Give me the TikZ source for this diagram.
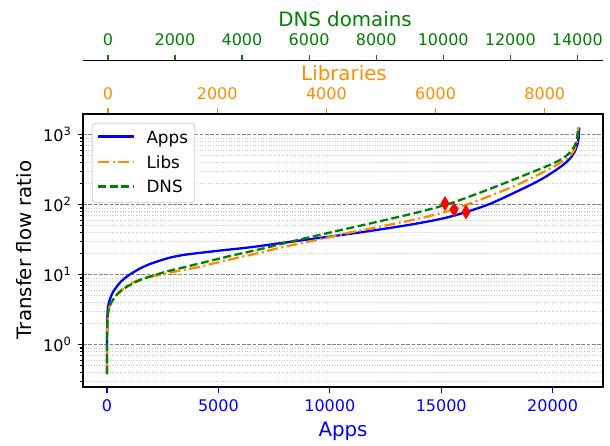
\documentclass[tikz,border=0pt]{standalone}
\usepackage{fontspec}
\setmainfont{DejaVu Sans}
\definecolor{mgreen}{RGB}{0,128,0}
\definecolor{morange}{RGB}{255,140,0}
\definecolor{mblue}{RGB}{0,0,255}
\begin{document}
\begin{tikzpicture}[x=1pt,y=-1pt,
  ticklab/.style={inner sep=0pt,anchor=base,font=\fontsize{16}{16}\selectfont},
  ylab/.style={inner sep=0pt,anchor=base east,font=\fontsize{16}{16}\selectfont},
  axlab/.style={inner sep=0pt,anchor=base,font=\fontsize{19.8}{20}\selectfont},
  leglab/.style={inner sep=0pt,anchor=base west,font=\fontsize{16.8}{17}\selectfont},
  gridmajor/.style={gray,line width=0.8pt,dash pattern=on 3.7pt off 1.6pt},
  gridminor/.style={black!22,line width=0.8pt,dash pattern=on 1pt off 1.65pt},
  framestyle/.style={black,line width=1.6pt},
  tickmark/.style={line width=1.1pt},
  appsline/.style={mblue,line width=2.3pt},
  libsline/.style={morange,line width=2.3pt,dash pattern=on 11pt off 3.5pt on 2pt off 3.5pt},
  dnsline/.style={mgreen,line width=2.3pt,dash pattern=on 8pt off 3.5pt},
  redmark/.style={fill=red,draw=red,line width=0.5pt}
]
\useasboundingbox (0,0) rectangle (610,445);

% ---------- grid and y minor ticks (clipped) ----------
\begin{scope}
  \clip (70,114) rectangle (603,387);
  \foreach \d in {-1,0,1,2,3}{
    \foreach \l in {0.30103,0.47712,0.60206,0.69897,0.77815,0.84510,0.90309,0.95424}{
      \pgfmathsetmacro\yy{344.8-70*(\d+\l)}
      \draw[gridminor] (83,\yy) -- (603,\yy);
      \draw[tickmark] (79.5,\yy) -- (83,\yy);
    }
  }
\end{scope}
\foreach \d in {0,1,2,3}{
  \pgfmathsetmacro\yy{344.8-70*\d}
  \draw[gridmajor] (83,\yy) -- (603,\yy);
  \draw[tickmark] (78,\yy) -- (83,\yy);
  \node[ylab] (ylab\d) at (71,\yy+6.3) {10\raisebox{6pt}{\fontsize{11.4}{11}\selectfont\d}};
}

% ---------- curves ----------
\draw[appsline] plot[smooth,tension=0.5] coordinates {
 (107,374) (107,345) (107.2,325) (107.8,308) (110,299) (113,292) (116.5,287)
 (121,281.5) (127,276.5) (133,272.5) (141,268) (150,264) (166,258.7) (183,255)
 (216,251) (250,247.3) (283,242.8) (317,238.3) (350,233.8) (383,229) (417,223.5)
 (450,216.7) (487,205) (520,190) (540,180) (553,172) (563,165) (570,158.5)
 (574.5,152) (577,146) (578.6,138) (579.2,127.5)};
\draw[libsline] plot[smooth,tension=0.5] coordinates {
 (107,374) (107,345) (107.3,325) (108.3,312) (111,303) (116,295.5) (122,289.5)
 (128,285) (136,281) (150,277) (166,273.5) (183,270) (200,266.7) (230,259.5)
 (263,252) (283,247) (317,240) (350,232.5) (383,226) (417,219) (450,210.5)
 (487,197) (520,183.5) (553,167) (566,159) (573,152) (576.5,144) (578.3,127.5)};
\draw[dnsline] plot[smooth,tension=0.5] coordinates {
 (107,374) (107,345) (107.3,325) (108,313) (110,305) (113,300) (118,293.5)
 (124,288.5) (130,285) (140,280) (150,276.5) (166,271.7) (183,267.5) (200,263.3)
 (230,256) (263,248.5) (283,243.5) (317,235.5) (350,228) (383,220.5) (417,212.5)
 (450,203.5) (487,190) (520,177) (553,163.5) (566,156) (573,148.5) (576.5,141)
 (578.3,127.5)};

% ---------- red diamonds ----------
\foreach \cx/\cy [count=\i] in {445/203.5,454/209.5,466/212}{
  \draw[redmark] (\cx,\cy-7) -- (\cx+4.2,\cy) -- (\cx,\cy+7) -- (\cx-4.2,\cy) -- cycle;
}

% ---------- frame ----------
\draw[framestyle] (83,114) rectangle (603,387);

% ---------- bottom axis (Apps) ----------
\foreach \v/\x in {0/107,5000/218.4,10000/329.8,15000/441.2,20000/552.6}{
  \draw[tickmark,mblue] (\x,387.8) -- (\x,393);
  \node[ticklab,text=mblue] (app\v) at (\x,411.7) {\v};
}
\node[axlab,text=mblue] (applabel) at (343,436.7) {Apps};

% ---------- libraries axis (top of frame) ----------
\foreach \v/\x in {0/108,2000/217.2,4000/326.4,6000/435.6,8000/544.8}{
  \draw[tickmark,morange] (\x,113.2) -- (\x,108);
  \node[ticklab,text=morange] (lib\v) at (\x,99.3) {\v};
}
\node[axlab,text=morange] (liblabel) at (344,80) {Libraries};

% ---------- DNS axis ----------
\draw[framestyle] (83,60.5) -- (603,60.5);
\foreach \v/\x in {0/108,2000/175,4000/242,6000/309.1,8000/376.2,10000/443.2,12000/510.3,14000/577.3}{
  \draw[tickmark,mgreen] (\x,59.7) -- (\x,54.5);
  \node[ticklab,text=mgreen] (dns\v) at (\x,45.7) {\v};
}
\node[axlab,text=mgreen] (dnslabel) at (345,26) {DNS domains};

% ---------- y label ----------
\node[inner sep=0pt,rotate=90,font=\fontsize{19.8}{20}\selectfont] (ylabel) at (24,250) {Transfer flow ratio};

% ---------- legend ----------
\draw[draw=black!20,fill=white,line width=0.8pt,rounded corners=3pt] (92.3,123.3) rectangle (194.7,202.3);
\coordinate (la1) at (98,136.5);   \coordinate (la2) at (134,136.5);
\coordinate (lb1) at (98,161.7);   \coordinate (lb2) at (134,161.7);
\coordinate (lc1) at (98,186.5);   \coordinate (lc2) at (134,186.5);
\draw[appsline] (la1) -- (la2);
\draw[libsline] (lb1) -- (lb2);
\draw[dnsline] (lc1) -- (lc2);
\node[leglab] (legapps) at (146.3,143.3) {Apps};
\node[leglab] (leglibs) at (146.3,168.3) {Libs};
\node[leglab] (legdns) at (146.3,192.7) {DNS};
\end{tikzpicture}
\end{document}
